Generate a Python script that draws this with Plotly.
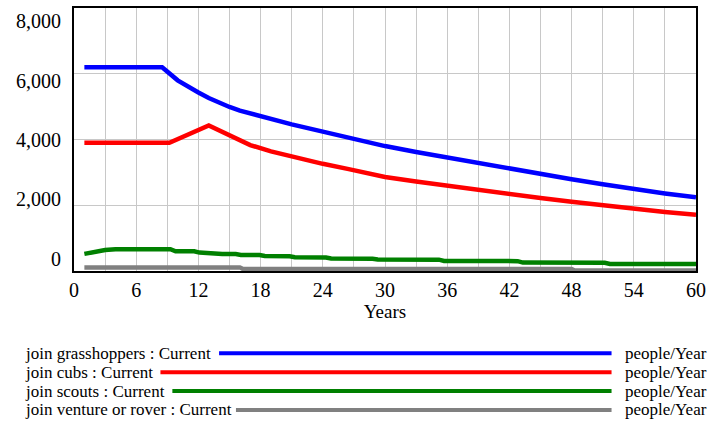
import plotly.graph_objects as go

# ---- series data (people/Year) ----
grass_years = [1, 8.5, 10, 11, 12, 13, 14, 15, 16, 18, 21, 24, 27, 30, 33, 36, 39, 42, 45, 48, 51, 54, 57, 60]
grass_vals = [6200, 6200, 5800, 5600, 5430, 5260, 5120, 4990, 4880, 4700, 4460, 4240, 4020, 3800, 3620, 3450,
              3270, 3100, 2940, 2790, 2640, 2490, 2360, 2240]

cubs_years = [1, 9.2, 13, 16, 17, 19, 22.6, 24, 26.5, 30, 33, 36, 39, 42, 45, 48, 51, 54, 57, 60]
cubs_vals = [3900, 3900, 4430, 3960, 3830, 3640, 3360, 3260, 3100, 2860, 2725, 2590, 2465, 2340, 2220, 2105,
             1995, 1885, 1795, 1710]

scouts_years = [1, 2, 3, 4, 9.3, 9.8, 11.6, 12.1, 13.8, 14.3, 15.6, 16.1, 17.9, 18.4, 20.8, 21.3, 24.3, 24.8,
                28.8, 29.3, 35.2, 35.7, 42.8, 43.3, 51.2, 51.7, 60]
scouts_vals = [520, 590, 640, 665, 665, 600, 600, 560, 555, 520, 515, 490, 485, 455, 445, 420, 410, 380,
               370, 350, 345, 305, 300, 255, 250, 215, 215]

venture_years = [1, 16, 16.3, 48, 48.3, 60]
venture_vals = [110, 110, 60, 60, 15, 15]

series_names = ["join grasshoppers : Current", "join cubs : Current", "join scouts : Current",
                "join venture or rover : Current"]
series_units = ["people/Year"] * 4
series_colors = ["#0000ff", "#ff0000", "#008000", "#808080"]

x_ticks = list(range(0, 61, 6))
y_ticks = [0, 2000, 4000, 6000, 8000]

SERIF = "Liberation Serif"
W, H = 712, 423
L, R, T, B = 74, 12, 6, 152

fig = go.Figure()
for xs, ys, col in zip([grass_years, cubs_years, scouts_years, venture_years],
                       [grass_vals, cubs_vals, scouts_vals, venture_vals], series_colors):
    fig.add_trace(go.Scatter(x=xs, y=ys, mode="lines", line=dict(color=col, width=4.5),
                             showlegend=False, cliponaxis=False, hoverinfo="skip"))

# carrier for the tick-label axis
fig.add_trace(go.Scatter(x=[], y=[], yaxis="y2", showlegend=False))

# ---- custom key below the plot ----
pw, ph = W - L - R, H - T - B


def px_x(px):
    return (px - L) / pw


def px_y(py):
    return (H - B - py) / ph


row_y = [354, 373, 392, 411]
line_start = [220, 161, 173, 237]
line_end = 615
shapes = []
annotations = []
for name, unit, col, yy, xs in zip(series_names, series_units, series_colors, row_y, line_start):
    annotations.append(dict(x=px_x(23), y=px_y(yy), xref="paper", yref="paper", text=name,
                            showarrow=False, xanchor="left", yanchor="middle",
                            font=dict(family=SERIF, size=17, color="black")))
    annotations.append(dict(x=px_x(627), y=px_y(yy), xref="paper", yref="paper", text=unit,
                            showarrow=False, xanchor="left", yanchor="middle",
                            font=dict(family=SERIF, size=17, color="black")))
    shapes.append(dict(type="line", xref="paper", yref="paper", x0=px_x(xs), x1=px_x(line_end),
                       y0=px_y(yy), y1=px_y(yy), line=dict(color=col, width=4)))

fig.update_layout(
    width=W, height=H,
    margin=dict(l=L, r=R, t=T, b=B),
    paper_bgcolor="white", plot_bgcolor="white",
    font=dict(family=SERIF, color="black"),
    shapes=shapes, annotations=annotations,
    xaxis=dict(range=[0, 60], tickvals=x_ticks, showgrid=True, gridcolor="#c8c8c8", gridwidth=1,
               minor=dict(dtick=3, tick0=0, showgrid=True, gridcolor="#c8c8c8", gridwidth=1),
               showline=True, mirror=True, linecolor="black", linewidth=2, zeroline=False,
               ticks="", tickfont=dict(family=SERIF, size=20), ticklabelstandoff=0,
               title=dict(text="Years", font=dict(family=SERIF, size=19), standoff=2),
               layer="below traces"),
    yaxis=dict(range=[0, 8000], tickvals=[2000, 4000, 6000], showticklabels=False,
               showgrid=True, gridcolor="#c8c8c8", gridwidth=1,
               showline=True, mirror=True, linecolor="black", linewidth=2, zeroline=False,
               ticks="", layer="below traces"),
    yaxis2=dict(overlaying="y", side="left", range=[-420, 8454], tickvals=y_ticks,
                tickformat=",d", showgrid=False, showline=False, zeroline=False, ticks="",
                tickfont=dict(family=SERIF, size=20), ticklabelstandoff=12),
)

fig.write_html("out.html")
